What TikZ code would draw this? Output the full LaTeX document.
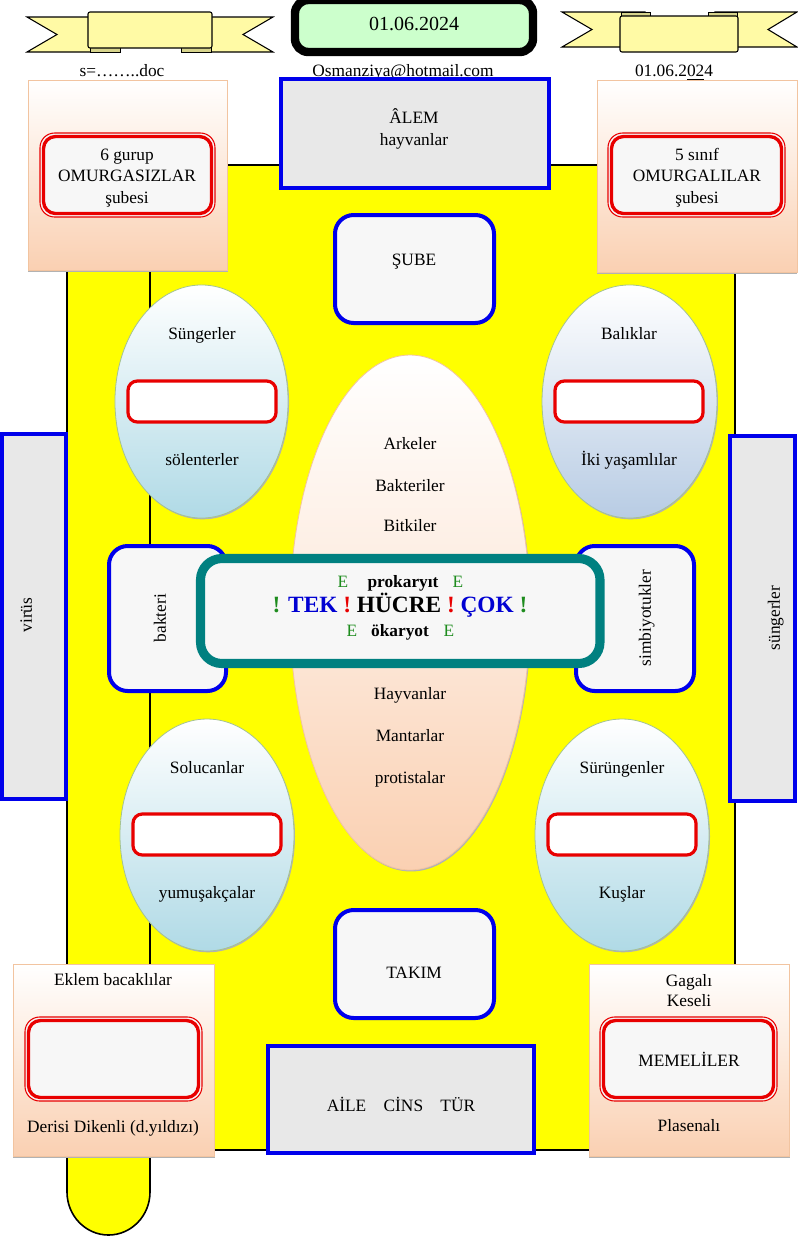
\documentclass[tikz,border=0pt]{standalone}
\usepackage{fontspec}
\setmainfont{Liberation Serif}
\definecolor{yel}{RGB}{255,255,0}
\definecolor{ribbonc}{RGB}{255,250,165}
\definecolor{ribbonfold}{RGB}{215,212,140}
\definecolor{dategreen}{RGB}{204,255,204}
\definecolor{bluebd}{RGB}{0,0,235}
\definecolor{boxgray}{RGB}{232,232,232}
\definecolor{boxwhite}{RGB}{247,247,247}
\definecolor{peach}{RGB}{250,208,178}
\definecolor{peachbd}{RGB}{242,196,160}
\definecolor{redbd}{RGB}{232,0,0}
\definecolor{tealbd}{RGB}{0,128,128}
\definecolor{lblue}{RGB}{176,218,230}
\definecolor{lsteel}{RGB}{184,204,228}
\definecolor{egreen}{RGB}{30,140,30}
\definecolor{ellbd}{RGB}{165,195,145}
\definecolor{tblue}{RGB}{0,0,210}
\newcommand\myredbox[4]{%
  \draw[redbd,line width=0.8pt,fill=boxwhite,rounded corners=11pt] (#1,#2) rectangle (#3,#4);
  \draw[redbd,line width=2.5pt,rounded corners=9pt] ($(#1,#2)+(3.5,3.5)$) rectangle ($(#3,#4)+(-3.5,-3.5)$);}
\usetikzlibrary{calc}
\begin{document}
\begin{tikzpicture}[x=0.75pt,y=-0.75pt,
  txt/.style={inner sep=0pt,text height=0.9em,text depth=0.02em,font=\fontsize{13}{15}\selectfont},
  bigtxt/.style={inner sep=0pt,text height=0.9em,text depth=0.02em,font=\fontsize{15}{18}\selectfont},
  boldtxt/.style={inner sep=0pt,text height=0.9em,text depth=0.02em,font=\fontsize{13}{15}\selectfont\bfseries},
  hucretxt/.style={inner sep=0pt,text height=0.9em,text depth=0.02em,font=\fontsize{17.5}{20}\selectfont\bfseries},
  rottxt/.style={inner sep=0pt,text height=0.9em,text depth=0.02em,font=\fontsize{13}{15}\selectfont,rotate=90},
  bluebox/.style={draw=bluebd,line width=3pt,fill=boxgray},
  blueround/.style={draw=bluebd,line width=3pt,fill=boxwhite,rounded corners=14pt},
  peachbox/.style={draw=peachbd,line width=0.6pt,top color=white,bottom color=peach},
  shadowc/.style={fill=black!30},
  ribbonpart/.style={draw=black,line width=0.8pt,fill=ribbonc,line join=miter},
  foldpart/.style={draw=black,line width=0.6pt,fill=ribbonfold},
  ellblue/.style={draw=ellbd,line width=0.6pt,top color=white,bottom color=lblue},
  ellsteel/.style={draw=ellbd,line width=0.6pt,top color=white,bottom color=lsteel},
  redinner/.style={draw=redbd,line width=2.4pt,fill=white,rounded corners=7pt},
  scrollline/.style={draw=black,line width=1.2pt}
]
\useasboundingbox (0,0) rectangle (797,1236);
\fill[white] (0,0) rectangle (797,1236);

% yellow vertical scroll
\fill[yel] (67,165) rectangle (735,1150);
\fill[yel] (67,1150) -- (67,1192) .. controls (67,1215.7) and (85.6,1235) .. (108.5,1235)
   .. controls (131.4,1235) and (150,1215.7) .. (150,1192) -- (150,1150) -- cycle;
\draw[scrollline] (150,165) -- (150,1192) .. controls (150,1215.7) and (131.4,1235) .. (108.5,1235)
   .. controls (85.6,1235) and (67,1215.7) .. (67,1192) -- (67,165) -- (735,165) -- (735,1150) -- (150,1150);

% top-left ribbon
\path[ribbonpart] (27,17) -- (110,17) -- (110,52) -- (27,52) -- (57,34.5) -- cycle;
\path[ribbonpart] (273,17) -- (190,17) -- (190,52) -- (273,52) -- (243,34.5) -- cycle;
\path[foldpart] (90,47) rectangle (120,52);
\path[foldpart] (181,47) rectangle (211,52);
\path[ribbonpart,rounded corners=1.5pt] (88,12) rectangle (212,48);

% top-right ribbon
\path[ribbonpart] (562,12) -- (645,12) -- (645,47) -- (562,47) -- (592,29.5) -- cycle;
\path[ribbonpart] (797,12) -- (715,12) -- (715,47) -- (797,47) -- (768,29.5) -- cycle;
\path[foldpart] (621,12) rectangle (650,17);
\path[foldpart] (708,12) rectangle (737,17);
\path[ribbonpart,rounded corners=1.5pt] (620,16) rectangle (738,52);

% date box
\draw[black,line width=6.3pt,fill=dategreen,rounded corners=10pt] (295,0) rectangle (533,52);
\node[bigtxt] (date) at (414,25) {01.06.2024};

% top texts
\node[txt] (sdoc) at (122,71) {s=……..doc};
\node[txt] (mail) at (403,71) {Osmanziya@hotmail.com};
\node[txt] (date2) at (674,71) {01.06.2\underline{02}4};

% top-left peach box
\fill[shadowc] (28,82) rectangle (228,272);
\path[peachbox] (28,80) rectangle (227,270);
\myredbox{40}{133}{215}{217}
\node[txt] (gurup) at (127,155) {6 gurup};
\node[txt] (omsiz) at (127,176) {OMURGASIZLAR};
\node[txt] (sub1) at (127,198) {şubesi};

% top-right peach box
\fill[shadowc] (597,82) rectangle (797,274);
\path[peachbox] (597,80) rectangle (797,272);
\myredbox{608}{133}{785}{217}
\node[txt] (sinif) at (697,155) {5 sınıf};
\node[txt] (omli) at (697,176) {OMURGALILAR};
\node[txt] (sub2) at (697,198) {şubesi};

% ALEM box
\path[bluebox] (281,79) rectangle (549,188);
\node[txt] (alem) at (414,118) {ÂLEM};
\node[txt] (hayv1) at (414,140) {hayvanlar};

% SUBE box
\path[blueround] (335,215) rectangle (494,323);
\node[txt] (sube) at (414,260) {ŞUBE};

% Sungerler ellipse
\fill[shadowc] (202.5,402.8) ellipse [x radius=64.9pt,y radius=87.4pt];
\path[ellblue] (201.5,401.5) ellipse [x radius=64.9pt,y radius=87.4pt];
\node[txt] (sung) at (202,334) {Süngerler};
\path[redinner] (128,381) rectangle (276,422);
\node[txt] (solen) at (202,460) {sölenterler};

% Baliklar ellipse
\fill[shadowc] (630.5,402.8) ellipse [x radius=65.6pt,y radius=87.4pt];
\path[ellsteel] (629.5,401.5) ellipse [x radius=65.6pt,y radius=87.4pt];
\node[txt] (balik) at (629,334) {Balıklar};
\path[redinner] (555,381) rectangle (703,422);
\node[txt] (ikiy) at (629,460) {İki yaşamlılar};

% Solucanlar ellipse
\fill[shadowc] (208,836.3) ellipse [x radius=65.25pt,y radius=87pt];
\path[ellblue] (207,835) ellipse [x radius=65.25pt,y radius=87pt];
\node[txt] (soluc) at (207,768) {Solucanlar};
\path[redinner] (133,814) rectangle (281,855);
\node[txt] (yumus) at (207,893) {yumuşakçalar};

% Surungenler ellipse
\fill[shadowc] (623,836.3) ellipse [x radius=65.25pt,y radius=87pt];
\path[ellblue] (622,835) ellipse [x radius=65.25pt,y radius=87pt];
\node[txt] (surun) at (622,768) {Sürüngenler};
\path[redinner] (548,814) rectangle (696,855);
\node[txt] (kus) at (622,893) {Kuşlar};

% centre ellipse
\fill[shadowc] (411,614) ellipse [x radius=90pt,y radius=193.1pt];
\path[draw=peachbd,line width=0.6pt,top color=white,bottom color=peach,middle color=peach!45!white] (410,612.5) ellipse [x radius=90pt,y radius=193.1pt];
\node[txt] (ark) at (410,444) {Arkeler};
\node[txt] (bak) at (410,486) {Bakteriler};
\node[txt] (bit) at (410,526) {Bitkiler};
\node[txt] (hay) at (410,694) {Hayvanlar};
\node[txt] (man) at (410,736) {Mantarlar};
\node[txt] (pro) at (410,778) {protistalar};

% side boxes
\path[bluebox] (2,434) rectangle (66,799);
\node[rottxt] (virus) at (26,615) {virüs};
\path[bluebox] (730,436) rectangle (795,801);
\node[rottxt] (sungr) at (774,618) {süngerler};

% bakteri / simbiyotukler
\path[blueround] (109,546) rectangle (226,691);
\node[rottxt] (bakteri) at (160,618) {bakteri};
\path[blueround] (576,546) rectangle (694,691);
\node[rottxt] (simb) at (645,618) {simbiyotukler};

% central teal box
\draw[tealbd,line width=6.8pt,fill=boxwhite,rounded corners=16pt] (200.5,558.5) rectangle (600,663.5);
\node[txt,text=egreen] (e1) at (343,582) {E};
\node[boldtxt] (prok) at (403,582) {prokaryıt};
\node[txt,text=egreen] (e2) at (458,582) {E};
\node[hucretxt] (hucre) at (400,607) {\textcolor{egreen}{!} \textcolor{tblue}{TEK} \textcolor{redbd}{!} HÜCRE \textcolor{redbd}{!} \textcolor{tblue}{ÇOK} \textcolor{egreen}{!}};
\node[txt,text=egreen] (e3) at (352,631) {E};
\node[boldtxt] (okar) at (400,631) {ökaryot};
\node[txt,text=egreen] (e4) at (449,631) {E};

% TAKIM box
\path[blueround] (335,910) rectangle (494,1018);
\node[txt] (takim) at (414,973) {TAKIM};

% bottom-left peach box
\fill[shadowc] (13,966) rectangle (215,1158);
\path[peachbox] (13,964) rectangle (214,1156);
\myredbox{25}{1017}{202}{1101}
\node[txt] (eklem) at (113,980) {Eklem bacaklılar};
\node[txt] (derisi) at (113,1127) {Derisi Dikenli (d.yıldızı)};

% bottom-right peach box
\fill[shadowc] (589,966) rectangle (790,1158);
\path[peachbox] (589,964) rectangle (789,1156);
\myredbox{600}{1017}{777}{1101}
\node[txt] (gagali) at (689,981) {Gagalı};
\node[txt] (keseli) at (689,1001) {Keseli};
\node[txt] (memeli) at (689,1061) {MEMELİLER};
\node[txt] (plasen) at (689,1126) {Plasenalı};

% AILE CINS TUR box
\path[bluebox] (268,1046) rectangle (534,1153);
\node[txt] (aile) at (401,1106) {AİLE\hspace{1em}CİNS\hspace{1em}TÜR};
\end{tikzpicture}
\end{document}
